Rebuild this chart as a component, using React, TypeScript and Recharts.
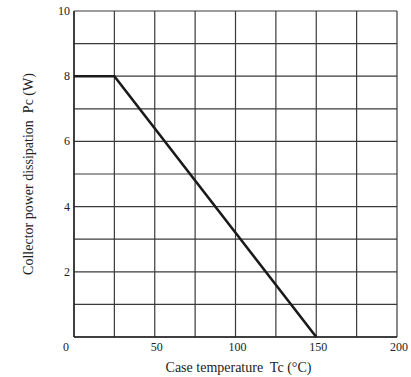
import React from "react";
import { LineChart, Line, XAxis, YAxis, CartesianGrid, Label } from "recharts";

// derating curve: Pc vs Tc
const caseTemp = [0, 25, 150];
const powerW = [8, 8, 0];

const xTicks = [0, 25, 50, 75, 100, 125, 150, 175, 200];
const yTicks = [0, 1, 2, 3, 4, 5, 6, 7, 8, 9, 10];
const xLabels = [0, 50, 100, 150, 200];
const yLabels = [2, 4, 6, 8, 10];

const FONT = "Liberation Serif, DejaVu Serif, serif";
const INK = "#222";

const data = caseTemp.map((t, i) => ({ tc: t, pc: powerW[i] }));

function XTick({ x, y, payload }: any) {
  if (!xLabels.includes(payload.value)) return null;
  const dx = payload.value === 0 ? -8 : 2;
  return (
    <text x={x + dx} y={y + 6} textAnchor="middle" style={{ fontFamily: FONT }} fontSize={12} fill={INK}>
      {payload.value}
    </text>
  );
}

function YTick({ x, y, payload }: any) {
  if (!yLabels.includes(payload.value)) return null;
  return (
    <text x={x + 4} y={y + 4} textAnchor="end" style={{ fontFamily: FONT }} fontSize={12} fill={INK}>
      {payload.value}
    </text>
  );
}

export default function App() {
  return (
    <div style={{ position: "absolute", left: 0, top: 0, width: 411, height: 377, background: "#fff" }}>
      <LineChart width={411} height={377} data={data} margin={{ top: 11, right: 14, left: 0, bottom: 0 }}>
        <CartesianGrid stroke="#3a3a3a" strokeWidth={1.2} />
        <XAxis
          type="number"
          dataKey="tc"
          domain={[0, 200]}
          ticks={xTicks}
          interval={0}
          tick={<XTick />}
          tickLine={false}
          axisLine={{ stroke: INK, strokeWidth: 1.4 }}
          height={40}
        >
          <Label
            content={({ viewBox }: any) => (
              <text
                x={viewBox.x + viewBox.width / 2 + 3}
                y={viewBox.y + 35}
                textAnchor="middle"
                fontFamily={FONT}
                fontSize={14}
                fill={INK}
                style={{ whiteSpace: "pre" }}
              >
                {"Case temperature  Tc (°C)"}
              </text>
            )}
          />
        </XAxis>
        <YAxis
          type="number"
          domain={[0, 10]}
          ticks={yTicks}
          interval={0}
          tick={<YTick />}
          tickLine={false}
          axisLine={{ stroke: INK, strokeWidth: 1.4 }}
          width={74}
        >
          <Label
            content={({ viewBox }: any) => {
              const cx = 28;
              const cy = viewBox.y + viewBox.height / 2;
              return (
                <text
                  x={cx}
                  y={cy}
                  transform={`rotate(-90 ${cx} ${cy})`}
                  textAnchor="middle"
                  dominantBaseline="central"
                  fontFamily={FONT}
                  fontSize={14}
                  fill={INK}
                  style={{ whiteSpace: "pre" }}
                >
                  {"Collector power dissipation  Pc (W)"}
                </text>
              );
            }}
          />
        </YAxis>
        <Line
          type="linear"
          dataKey="pc"
          stroke="#1a1a1a"
          strokeWidth={2.6}
          dot={false}
          isAnimationActive={false}
        />
      </LineChart>
    </div>
  );
}
